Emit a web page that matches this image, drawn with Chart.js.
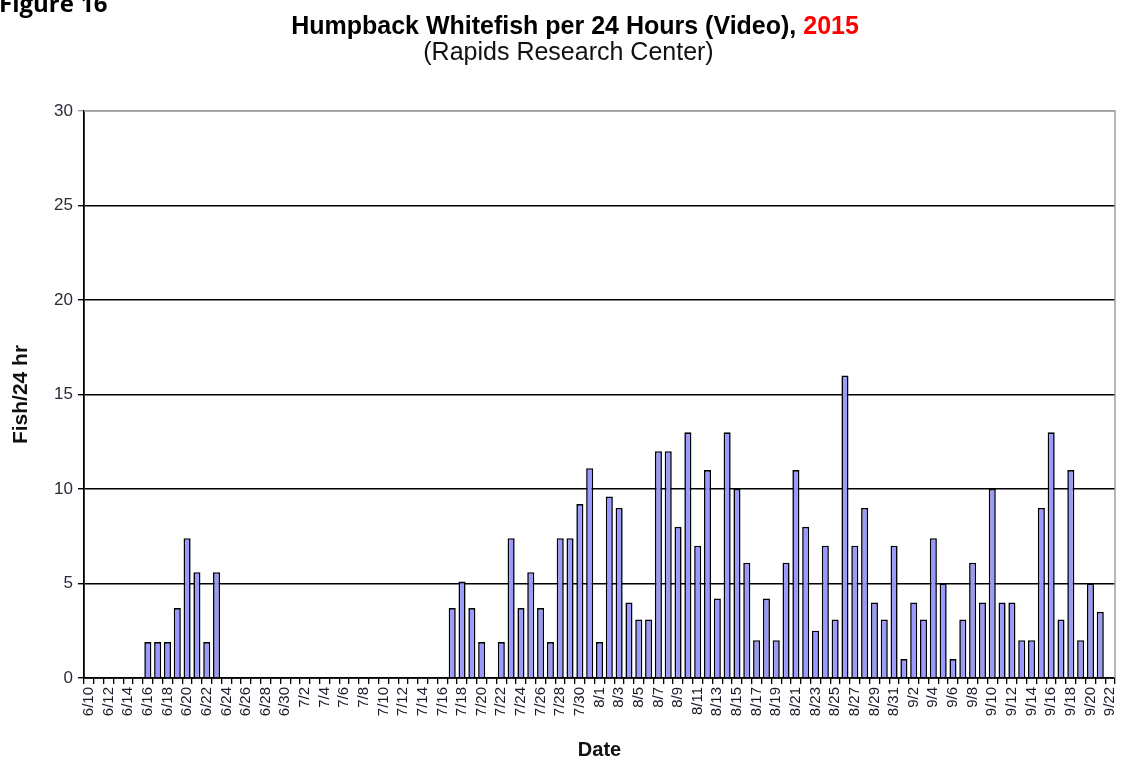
<!DOCTYPE html>
<html>
<head>
<meta charset="utf-8">
<script src="https://cdn.jsdelivr.net/npm/chart.js@4.4.1/dist/chart.umd.min.js"></script>
<style>
  html, body { margin: 0; padding: 0; background: #fff; }
  #wrap { position: relative; width: 1128px; height: 766px; overflow: hidden; }
  #c { position: absolute; left: 0; top: 0; }
  .fig { position: absolute; left: -1px; top: -14px; line-height: 24px; font: bold 24px "Open Sans", "Liberation Sans", sans-serif; color: #000; white-space: nowrap; }
  .title { position: absolute; left: 0; width: 1150px; top: 13px; line-height: 25px; text-align: center; font-family: "Liberation Sans", Arial, sans-serif; font-weight: bold; font-size: 25px; color: #000; white-space: nowrap; }
  .title .yr { color: #ff0000; }
  .sub { position: absolute; left: 0; width: 1137px; top: 39px; line-height: 25px; text-align: center; font-family: "Liberation Sans", Arial, sans-serif; font-size: 25px; color: #111; white-space: nowrap; }
</style>
</head>
<body>
<div id="wrap">
  <canvas id="c" width="1128" height="766"></canvas>
  <div class="fig">Figure 16</div>
  <div class="title">Humpback Whitefish per 24 Hours (Video), <span class="yr">2015</span></div>
  <div class="sub">(Rapids Research Center)</div>
</div>
<script>
const dates = [
  "6/10","6/11","6/12","6/13","6/14","6/15","6/16","6/17","6/18","6/19","6/20","6/21","6/22","6/23","6/24","6/25","6/26","6/27","6/28","6/29","6/30",
  "7/1","7/2","7/3","7/4","7/5","7/6","7/7","7/8","7/9","7/10","7/11","7/12","7/13","7/14","7/15","7/16","7/17","7/18","7/19","7/20","7/21","7/22","7/23","7/24","7/25","7/26","7/27","7/28","7/29","7/30","7/31",
  "8/1","8/2","8/3","8/4","8/5","8/6","8/7","8/8","8/9","8/10","8/11","8/12","8/13","8/14","8/15","8/16","8/17","8/18","8/19","8/20","8/21","8/22","8/23","8/24","8/25","8/26","8/27","8/28","8/29","8/30","8/31",
  "9/1","9/2","9/3","9/4","9/5","9/6","9/7","9/8","9/9","9/10","9/11","9/12","9/13","9/14","9/15","9/16","9/17","9/18","9/19","9/20","9/21","9/22"
];
const juneValues = [0,0,0,0,0,0, 1.9,1.9,1.9,3.7,7.4,5.6,1.9,5.6, 0,0,0,0,0,0,0];
const julyValues = [0,0,0,0,0,0,0,0,0,0,0,0,0,0,0,0, 3.7,5.1,3.7,1.9,0,1.9,7.4,3.7,5.6,3.7,1.9,7.4,7.4,9.2,11.1];
const augustValues = [1.9,9.6,9.0,4.0,3.1,3.1,12,12,8,13,7,11,4.2,13,10,6.1,2,4.2,2,6.1,11,8,2.5,7,3.1,16,7,9,4,3.1,7];
const septemberValues = [1.0,4,3.1,7.4,5,1,3.1,6.1,4,10,4,4,2,2,9,13,3.1,11,2,5,3.5,0];
const fishPer24 = [].concat(juneValues, julyValues, augustValues, septemberValues);
const yTicks = [0,5,10,15,20,25,30];

const framePlugin = {
  id: 'frame',
  beforeDatasetsDraw(chart) {
    const a = chart.chartArea, ctx = chart.ctx;
    ctx.save();
    ctx.strokeStyle = '#a0a0a0';
    ctx.lineWidth = 1.5;
    ctx.beginPath();
    ctx.moveTo(a.left, a.top);
    ctx.lineTo(a.right, a.top);
    ctx.lineTo(a.right, a.bottom);
    ctx.stroke();
    ctx.restore();
  }
};

new Chart(document.getElementById('c'), {
  type: 'bar',
  data: {
    labels: dates,
    datasets: [{
      data: fishPer24,
      backgroundColor: '#9999ff',
      borderColor: '#000000',
      borderWidth: 1.6,
      barPercentage: 0.72,
      categoryPercentage: 1.0
    }]
  },
  options: {
    responsive: false,
    animation: false,
    devicePixelRatio: 1,
    layout: { padding: { top: 111, right: 13, left: 9, bottom: 0 } },
    plugins: { legend: { display: false }, tooltip: { enabled: false } },
    scales: {
      x: {
        grid: { offset: true, drawOnChartArea: false, drawTicks: true, tickLength: 6, color: '#000', lineWidth: 1.3 },
        border: { color: '#000', width: 1.8 },
        ticks: {
          autoSkip: false, maxRotation: 90, minRotation: 90, padding: 3,
          color: '#1a1a2a',
          font: { family: '"Liberation Sans", Arial, sans-serif', size: 15 },
          callback: function(v, i) { return i % 2 === 0 ? this.getLabelForValue(v) : ''; }
        },
        title: { display: true, text: 'Date', color: '#111', font: { family: '"Liberation Sans", Arial, sans-serif', size: 20, weight: 'bold' }, padding: { top: 2, bottom: 4 } },
        afterFit(scale) { scale.height = 88; scale.paddingRight = 0; scale.paddingLeft = 0; }
      },
      y: {
        min: 0, max: 30,
        afterBuildTicks(scale) { scale.ticks = yTicks.map(v => ({ value: v })); },
        grid: {
          color: (ctx) => ctx.tick && ctx.tick.value === 30 ? '#a0a0a0' : '#000',
          lineWidth: 1.4, tickLength: 6, drawTicks: true
        },
        border: { color: '#000', width: 1.8 },
        ticks: { color: '#2a2a3a', padding: 5, font: { family: '"Liberation Sans", Arial, sans-serif', size: 17 } },
        title: { display: true, text: 'Fish/24 hr', color: '#111', font: { family: '"Liberation Sans", Arial, sans-serif', size: 21, weight: 'bold' }, padding: { top: 0, bottom: 0 } },
        afterFit(scale) { scale.width = 75; scale.paddingTop = 0; scale.paddingBottom = 0; }
      }
    }
  },
  plugins: [framePlugin]
});
</script>
</body>
</html>
